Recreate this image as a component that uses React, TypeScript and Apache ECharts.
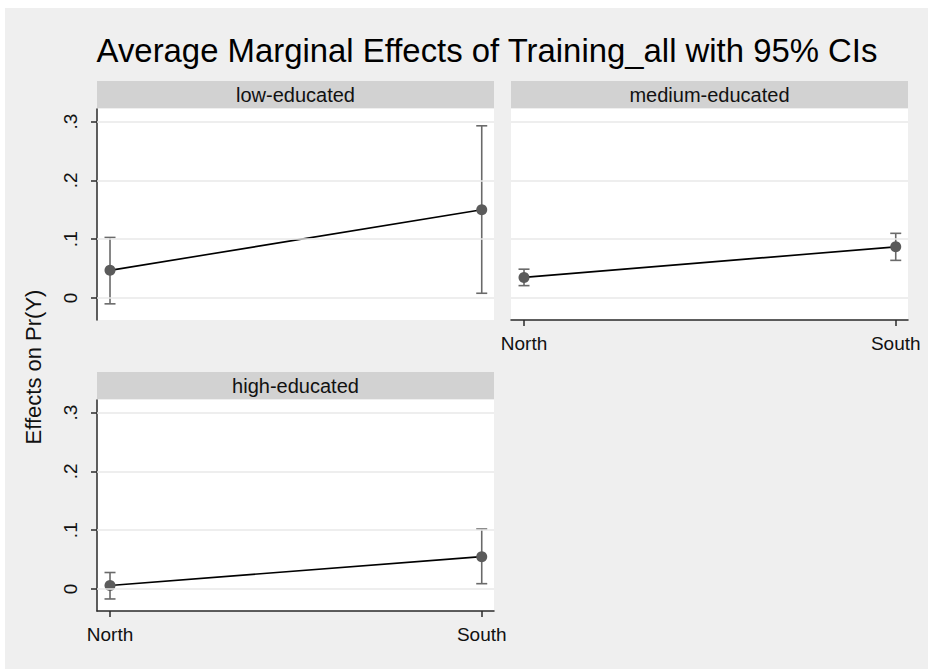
import React, { useEffect, useRef } from "react";
import * as echarts from "echarts";

const chartTitle = "Average Marginal Effects of Training_all with 95% CIs";
const yAxisTitle = "Effects on Pr(Y)";
const categories = ["North", "South"];
const panelNames = ["low-educated", "medium-educated", "high-educated"];

const lowEst = [0.047, 0.15];
const lowLo = [-0.01, 0.008];
const lowHi = [0.103, 0.293];

const medEst = [0.035, 0.087];
const medLo = [0.021, 0.064];
const medHi = [0.049, 0.11];

const highEst = [0.006, 0.055];
const highLo = [-0.017, 0.009];
const highHi = [0.028, 0.102];

const yTicks = [0, 0.1, 0.2, 0.3];
const yTickLabels = ["0", ".1", ".2", ".3"];

const FONT = "'Liberation Sans', Arial, sans-serif";

export default function App() {
  const ref = useRef<HTMLDivElement>(null);

  useEffect(() => {
    if (!ref.current) return;
    const chart = echarts.init(ref.current, undefined, { renderer: "svg" });

    const panels = [
      { name: panelNames[0], est: lowEst, lo: lowLo, hi: lowHi, left: 97, top: 109, showX: false, showY: true },
      { name: panelNames[1], est: medEst, lo: medLo, hi: medHi, left: 511, top: 109, showX: true, showY: false },
      { name: panelNames[2], est: highEst, lo: highLo, hi: highHi, left: 97, top: 400, showX: true, showY: true },
    ];
    const W = 397;
    const H = 211;

    const grids: any[] = [];
    const xAxes: any[] = [];
    const yAxes: any[] = [];
    const series: any[] = [];
    const graphics: any[] = [];

    panels.forEach((p, i) => {
      grids.push({
        left: p.left,
        top: p.top,
        width: W,
        height: H,
        show: true,
        backgroundColor: "#ffffff",
        borderWidth: 0,
      });
      xAxes.push({
        gridIndex: i,
        type: "value",
        min: -0.035,
        max: 1.033,
        show: p.showX,
        axisLine: { show: true, onZero: false, lineStyle: { color: "#2a2a2a", width: 1.5 } },
        axisTick: { show: true, customValues: [0, 1], length: 6, lineStyle: { color: "#2a2a2a", width: 1.5 } },
        axisLabel: {
          customValues: [0, 1],
          formatter: (v: number) => categories[Math.round(v)],
          fontFamily: FONT,
          fontSize: 19,
          color: "#111",
          margin: 14,
        },
        splitLine: { show: false },
      });
      yAxes.push({
        gridIndex: i,
        type: "value",
        min: -0.0375,
        max: 0.3216,
        show: p.showY,
        axisLine: { show: true, onZero: false, lineStyle: { color: "#2a2a2a", width: 1.5 } },
        axisTick: { show: true, customValues: yTicks, length: 6, lineStyle: { color: "#2a2a2a", width: 1.5 } },
        axisLabel: {
          customValues: yTicks,
          rotate: 90,
          formatter: (v: number) => {
            const idx = yTicks.findIndex((t) => Math.abs(t - v) < 1e-6);
            return idx >= 0 ? yTickLabels[idx] : "";
          },
          fontFamily: FONT,
          fontSize: 19,
          color: "#111",
          margin: 17,
        },
        splitLine: { show: false },
      });

      series.push({
        type: "custom",
        xAxisIndex: i,
        yAxisIndex: i,
        z: 2,
        silent: true,
        data: categories.map((_, k) => [k, p.lo[k], p.hi[k]]),
        encode: { x: 0, y: [1, 2] },
        renderItem: (params: any, api: any) => {
          const x = api.value(0);
          const top = api.coord([x, api.value(2)]);
          const bot = api.coord([x, api.value(1)]);
          const style = { stroke: "#6a6a6a", lineWidth: 1.6 };
          return {
            type: "group",
            children: [
              { type: "line", shape: { x1: top[0], y1: top[1], x2: bot[0], y2: bot[1] }, style },
              { type: "line", shape: { x1: top[0] - 5.5, y1: top[1], x2: top[0] + 5.5, y2: top[1] }, style },
              { type: "line", shape: { x1: bot[0] - 5.5, y1: bot[1], x2: bot[0] + 5.5, y2: bot[1] }, style },
            ],
          };
        },
        markLine: {
          silent: true,
          symbol: "none",
          label: { show: false },
          lineStyle: { color: "#e8e8e8", width: 1.6, type: "solid" },
          data: yTicks.map((t) => ({ yAxis: t })),
        },
      });

      series.push({
        type: "line",
        xAxisIndex: i,
        yAxisIndex: i,
        z: 3,
        silent: true,
        data: categories.map((_, k) => [k, p.est[k]]),
        symbol: "circle",
        symbolSize: 11,
        itemStyle: { color: "#5b5b5b" },
        lineStyle: { color: "#000000", width: 1.6 },
      });

      graphics.push({
        type: "rect",
        shape: { x: p.left, y: p.top - 28, width: W, height: 27 },
        style: { fill: "#d2d2d2" },
      });
      graphics.push({
        type: "text",
        x: p.left + W / 2,
        y: p.top - 14,
        style: {
          text: p.name,
          fontFamily: FONT,
          fontSize: 20,
          fill: "#111",
          textAlign: "center",
          textVerticalAlign: "middle",
        },
      });
    });

    graphics.push({
      type: "text",
      x: 487,
      y: 50,
      scaleX: 0.967,
      style: {
        text: chartTitle,
        fontFamily: FONT,
        fontSize: 34,
        fill: "#000",
        textAlign: "center",
        textVerticalAlign: "middle",
      },
    });
    graphics.push({
      type: "text",
      x: 33,
      y: 367,
      rotation: Math.PI / 2,
      style: {
        text: yAxisTitle,
        fontFamily: FONT,
        fontSize: 22,
        fill: "#111",
        textAlign: "center",
        textVerticalAlign: "middle",
      },
    });

    chart.setOption({
      animation: false,
      backgroundColor: "transparent",
      grid: grids,
      xAxis: xAxes,
      yAxis: yAxes,
      series,
      graphic: graphics,
    });

    return () => chart.dispose();
  }, []);

  return (
    <div style={{ position: "fixed", left: 0, top: 0, width: 928, height: 669, background: "#ffffff" }}>
      <div style={{ position: "absolute", left: 5, top: 8, right: 0, bottom: 0, background: "#efefef" }} />
      <div ref={ref} style={{ position: "absolute", left: 0, top: 0, width: 928, height: 669 }} />
    </div>
  );
}
